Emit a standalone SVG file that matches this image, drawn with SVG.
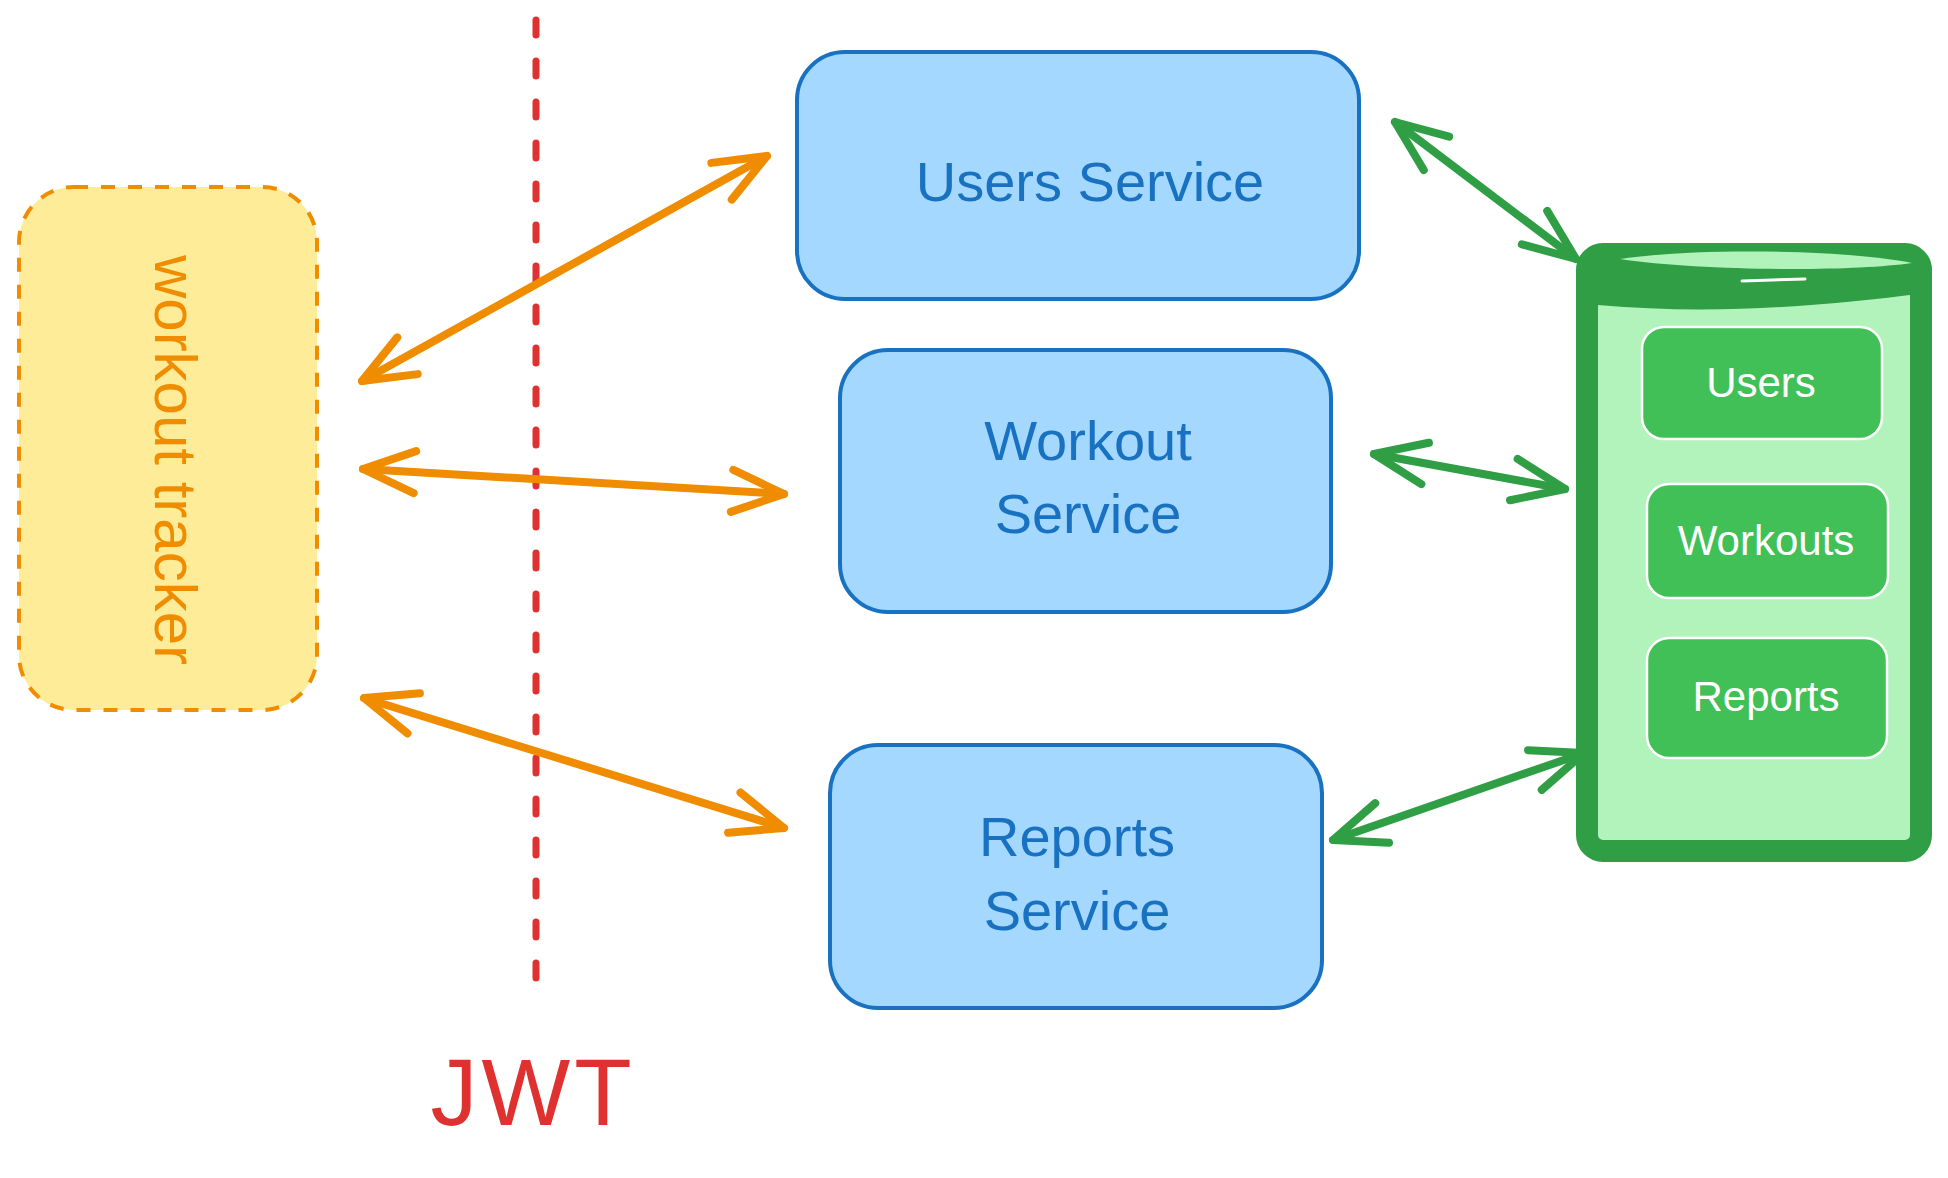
<svg xmlns="http://www.w3.org/2000/svg" width="1948" height="1178" viewBox="0 0 1948 1178">
<style>
.svc rect{fill:#a5d8ff;stroke:#1971c2;stroke-width:4}
.svc text{fill:#1971c2;font-family:"Liberation Sans",Arial,sans-serif;font-size:56px;text-anchor:middle}
.tbl rect{fill:#40c057;stroke:#ffffff;stroke-width:2.5}
.tbl text{fill:#ffffff;font-family:"Liberation Sans",Arial,sans-serif;font-size:42px;text-anchor:middle}
.orange{stroke:#f08c00;stroke-width:8;fill:none;stroke-linecap:round;marker-start:url(#mo);marker-end:url(#mo)}
.green{stroke:#2f9e44;stroke-width:8;fill:none;stroke-linecap:round;marker-start:url(#mg);marker-end:url(#mg)}
</style>
<defs>
<marker id="mo" markerUnits="userSpaceOnUse" orient="auto-start-reverse" refX="0" refY="0" markerWidth="1" markerHeight="1" overflow="visible">
<path d="M-52,-21 L0,0 L-52,21" fill="none" stroke="#f08c00" stroke-width="8" stroke-linecap="round" stroke-linejoin="round"/>
</marker>
<marker id="mg" markerUnits="userSpaceOnUse" orient="auto-start-reverse" refX="0" refY="0" markerWidth="1" markerHeight="1" overflow="visible">
<path d="M-52,-21 L0,0 L-52,21" fill="none" stroke="#2f9e44" stroke-width="8" stroke-linecap="round" stroke-linejoin="round"/>
</marker>
</defs>
<rect width="1948" height="1178" fill="#ffffff"/>

<g id="jwt-boundary">
<line x1="536" y1="20" x2="536" y2="997" stroke="#e03131" stroke-width="7" stroke-linecap="round" stroke-dasharray="15 26"/>
<text x="533" y="1125" fill="#e03131" font-family="Liberation Sans,Arial,sans-serif" font-size="94" text-anchor="middle" letter-spacing="4">JWT</text>
</g>

<g id="workout-tracker">
<rect x="19" y="187" width="298" height="523" rx="55" fill="#ffec99" stroke="#f08c00" stroke-width="4" stroke-dasharray="14 13"/>
<text transform="translate(155,460) rotate(90)" fill="#f08c00" font-family="Liberation Sans,Arial,sans-serif" font-size="60" text-anchor="middle">workout tracker</text>
</g>

<g id="users-service" class="svc">
<rect x="797" y="52" width="562" height="247" rx="48"/>
<text x="1090" y="201">Users Service</text>
</g>

<g id="workout-service" class="svc">
<rect x="840" y="350" width="491" height="262" rx="48"/>
<text x="1088" y="460">Workout</text>
<text x="1088" y="533">Service</text>
</g>

<g id="reports-service" class="svc">
<rect x="830" y="745" width="492" height="263" rx="48"/>
<text x="1077" y="856">Reports</text>
<text x="1077" y="930">Service</text>
</g>

<g id="database">
<rect x="1587" y="254" width="334" height="597" rx="16" fill="#b2f2bb" stroke="#2f9e44" stroke-width="22"/>
<path d="M1590,250 H1918 V294 C1840,304 1720,316 1598,305 Z" fill="#2f9e44"/>
<path d="M1620,259 C1700,247 1850,250 1912,263 C1850,272 1700,271 1620,259 Z" fill="#b2f2bb"/>
<path d="M1742,281 L1805,279" stroke="#ffffff" stroke-width="3" stroke-linecap="round"/>
</g>

<g id="table-users" class="tbl">
<rect x="1642" y="327" width="240" height="112" rx="22"/>
<text x="1761" y="397">Users</text>
</g>
<g id="table-workouts" class="tbl">
<rect x="1647" y="484" width="241" height="114" rx="22"/>
<text x="1766" y="555">Workouts</text>
</g>
<g id="table-reports" class="tbl">
<rect x="1647" y="638" width="240" height="120" rx="22"/>
<text x="1766" y="711">Reports</text>
</g>

<g id="connectors">
<path class="orange" d="M362,381 L767,156"/>
<path class="orange" d="M363,469 L784,494"/>
<path class="orange" d="M364,698 L784,828"/>
<path class="green" d="M1395,122 L1576,259"/>
<path class="green" d="M1374,454 L1565,489"/>
<path class="green" d="M1333,840 L1584,753"/>
</g>
</svg>
